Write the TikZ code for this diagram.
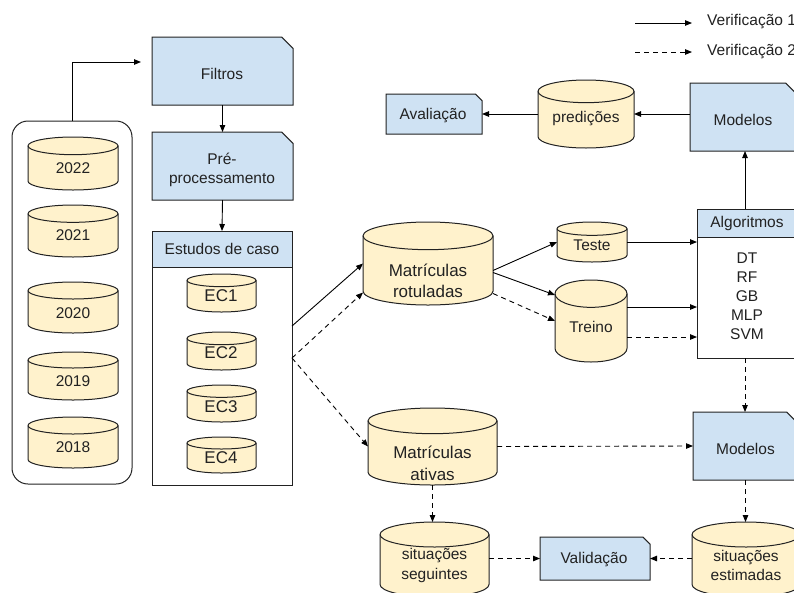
\documentclass[tikz,border=0pt]{standalone}
\usepackage{fontspec}
\setmainfont{Liberation Sans}
\usetikzlibrary{arrows.meta,calc}

\definecolor{boxblue}{HTML}{CFE2F3}
\definecolor{canyellow}{HTML}{FFF2CC}
\definecolor{ink}{HTML}{222222}

\tikzset{
  outline/.style={draw=ink, line width=1pt, line join=miter},
  txt/.style={align=center, inner sep=0pt, font=\fontsize{15.5}{19.5}\selectfont, text=ink},
  bigtxt/.style={font=\fontsize{17}{21.5}\selectfont},
  anchorbox/.style={inner sep=0pt, outer sep=0pt, draw=none},
  link/.style={line width=0.9pt, draw=black, -{Triangle[length=7pt,width=5.5pt]}},
  link2/.style={link, dash pattern=on 5pt off 4pt},
}

% blue process box with one snipped corner (top right)
% #1 name, #2 left, #3 top, #4 right, #5 bottom, #6 text x, #7 text y, #8 text style, #9 text
\newcommand{\snipbox}[9]{%
  \pgfmathsetmacro{\bw}{#4-#2}\pgfmathsetmacro{\bh}{#5-#3}%
  \pgfmathsetmacro{\cut}{min(\bw,\bh)/6}%
  \filldraw[outline, fill=boxblue] (#2,#3) -- ({#4-\cut},#3) -- (#4,{#3+\cut}) -- (#4,#5) -- (#2,#5) -- cycle;
  \node[anchorbox, minimum width=\bw pt, minimum height=\bh pt] (#1) at ({(#2+#4)/2},{(#3+#5)/2}) {};
  \node[txt, #8] (#1-t) at (#6,#7) {#9};
}

% yellow data cylinder
\newcommand{\can}[9]{%
  \pgfmathsetmacro{\bw}{#4-#2}\pgfmathsetmacro{\bh}{#5-#3}%
  \pgfmathsetmacro{\rx}{\bw/2}\pgfmathsetmacro{\ry}{\bh/6}%
  \filldraw[outline, fill=canyellow] (#2,{#3+\ry}) -- (#2,{#5-\ry})
    arc[start angle=180, end angle=360, x radius=\rx pt, y radius=\ry pt]
    -- (#4,{#3+\ry})
    arc[start angle=0, end angle=180, x radius=\rx pt, y radius=\ry pt] -- cycle;
  \draw[outline] (#2,{#3+\ry}) arc[start angle=180, end angle=360, x radius=\rx pt, y radius=\ry pt];
  \node[anchorbox, minimum width=\bw pt, minimum height=\bh pt] (#1) at ({(#2+#4)/2},{(#3+#5)/2}) {};
  \node[txt, #8] (#1-t) at (#6,#7) {#9};
}

\begin{document}
\begin{tikzpicture}[x=1pt, y=-1pt]
\path[use as bounding box] (0,0) rectangle (794,592);
\clip (0,0) rectangle (794,592);
\fill[white] (0,0) rectangle (794,592);

% legend
\coordinate (l1a) at (635,23); \coordinate (l1b) at (692,23);
\coordinate (l2a) at (635,52); \coordinate (l2b) at (692,52);
\draw[link] (l1a) -- (l1b);
\draw[link2] (l2a) -- (l2b);
\node[txt, anchor=west] (l1t) at (707,22) {Verificação 1};
\node[txt, anchor=west] (l2t) at (707,52) {Verificação 2};

% yearly data
\draw[outline, rounded corners=16pt] (12,121) rectangle (132,484);
\node[anchorbox, minimum width=120pt, minimum height=363pt] (years) at (72,302.5) {};
\can{y22}{28}{137}{118}{190}{73}{168}{}{2022}
\can{y21}{28}{205}{118}{257}{73}{235}{}{2021}
\can{y20}{28}{282}{118}{333}{73}{313}{}{2020}
\can{y19}{28}{352}{118}{400}{73}{381}{}{2019}
\can{y18}{28}{417}{118}{468}{73}{447}{}{2018}

% preparation
\snipbox{filtros}{152}{37}{293}{105}{222}{74}{}{Filtros}
\snipbox{prep}{152}{132}{293}{200}{222}{170}{}{Pré-\\processamento}

% case studies
\filldraw[outline, fill=white] (152,231) rectangle (292,485);
\filldraw[outline, fill=boxblue] (152,231) rectangle (292,267);
\node[anchorbox, minimum width=140pt, minimum height=254pt] (est) at (222,358) {};
\node[txt] (est-t) at (222,249) {Estudos de caso};
\can{ec1}{187}{274}{256}{312}{221}{296}{bigtxt}{EC1}
\can{ec2}{187}{332}{256}{370}{221}{353}{bigtxt}{EC2}
\can{ec3}{187}{385}{256}{422}{221}{407}{bigtxt}{EC3}
\can{ec4}{187}{437}{256}{473}{221}{458}{bigtxt}{EC4}

% labelled enrolments
\can{rot}{363}{222}{493}{305}{428}{281}{bigtxt}{Matrículas\\rotuladas}
\can{teste}{557}{222}{627}{262}{592}{245}{}{Teste}
\can{treino}{555}{280}{627}{362}{591}{327}{}{Treino}

% algorithms
\filldraw[outline, fill=white] (697,209) rectangle (797,358);
\filldraw[outline, fill=boxblue] (697,209) rectangle (797,237);
\node[anchorbox, minimum width=100pt, minimum height=149pt] (alg) at (747,283.5) {};
\node[txt] (alg-t) at (747,223) {Algoritmos};
\node[txt, font=\fontsize{15.5}{19}\selectfont] (alg-list) at (747,296) {DT\\RF\\GB\\MLP\\SVM};

% evaluation branch
\snipbox{modA}{690}{83}{797}{151}{743}{120}{}{Modelos}
\can{pred}{538}{80}{634}{148}{586}{119}{}{predições}
\snipbox{aval}{386}{94}{482}{134}{433}{116}{}{Avaliação}

% active enrolments branch
\can{ativ}{368}{408}{497}{485}{432.5}{463.5}{bigtxt}{Matrículas\\ativas}
\snipbox{modB}{693}{412}{798}{480}{745.5}{449}{}{Modelos}
\can{seg}{380}{522}{489}{597}{434.5}{565.5}{}{situações\\seguintes}
\can{estim}{692}{522}{800}{597}{746}{565.5}{}{situações\\estimadas}
\snipbox{valid}{540}{537}{650}{580}{594}{560}{}{Validação}

% connectors
\coordinate (fin) at (141,62);
\draw[link] (years.north) |- (fin);
\draw[link] (filtros.south) -- (prep.north);
\draw[link] (prep.south) -- (est.north);

\coordinate (e1) at ($(est.east)+(0,-32)$);
\draw[link] (e1) -- (rot.west);
\draw[link2] (est.east) -- ($(rot.west)+(0,29)$);
\draw[link2] (est.east) -- (ativ.west);

\draw[link] ($(rot.east)+(0,7)$) -- (teste.west);
\draw[link] ($(rot.east)+(0,9)$) -- ($(treino.west)+(0,-26)$);
\draw[link2] ($(rot.east)+(0,30)$) -- (treino.west);

\draw[link] (teste.east) -- (teste.east -| alg.west);
\coordinate (tr1) at ($(treino.east)+(0,-14)$);
\coordinate (tr2) at ($(treino.east)+(0,16)$);
\draw[link] (tr1) -- (tr1 -| alg.west);
\draw[link2] (tr2) -- (tr2 -| alg.west);

\coordinate (up) at ($(alg.north)+(-2,0)$);
\draw[link] (up) -- (up |- modA.south);
\draw[link] (modA.west |- pred.east) -- (pred.east);
\draw[link] (pred.west |- aval.east) -- (aval.east);

\coordinate (dn) at ($(alg.south)+(-2,0)$);
\draw[link2] (dn) -- (dn |- modB.north);
\draw[link2] (ativ.east) -- (modB.west);
\draw[link2] (ativ.south) -- (ativ.south |- seg.north);
\draw[link2] (modB.south) -- (modB.south |- estim.north);
\draw[link2] (valid.west -| seg.east) -- (valid.west);
\draw[link2] (valid.east -| estim.west) -- (valid.east);
\end{tikzpicture}
\end{document}
